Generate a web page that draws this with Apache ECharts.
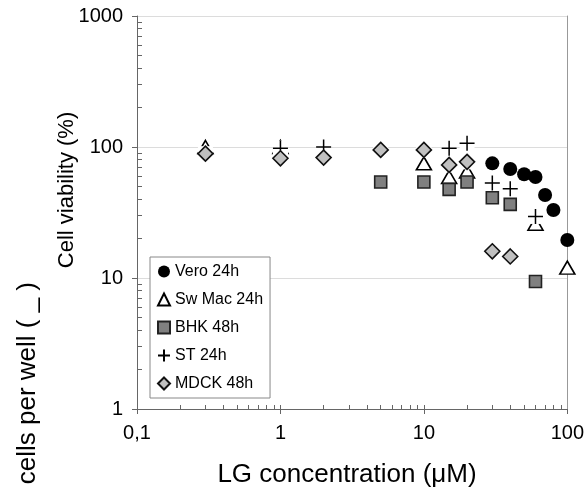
<!DOCTYPE html>
<html>
<head>
<meta charset="utf-8">
<script src="https://cdn.jsdelivr.net/npm/echarts@6/dist/echarts.min.js"></script>
<style>
html,body{margin:0;padding:0;background:#fff;}
#chart{width:587px;height:502px;}
</style>
</head>
<body>
<div id="chart"></div>
<script>
// ---- data ----
const veroX = [30, 40, 50, 60, 70, 80, 100];
const veroY = [75, 68, 62, 59, 43, 33, 19.5];
const swMacX = [0.3, 1, 10, 15, 20, 60, 100];
const swMacY = [100, 100, 75, 59, 65, 26, 12];
const bhkX = [5, 10, 15, 20, 30, 40, 60];
const bhkY = [54, 54, 47.5, 54, 41, 36.5, 9.4];
const stX = [1, 2, 10, 15, 20, 30, 40, 60];
const stY = [98, 100, 95, 98, 107, 53, 48, 29.5];
const mdckX = [0.3, 1, 2, 5, 10, 15, 20, 30, 40];
const mdckY = [89, 82, 83, 95, 95, 73, 77, 16, 14.6];
const seriesNames = ['Vero 24h', 'Sw Mac 24h', 'BHK 48h', 'ST 24h', 'MDCK 48h'];
const xInnerTicks = [0.2,0.3,0.4,0.5,0.6,0.7,0.8,0.9,1,2,3,4,5,6,7,8,9,10,20,30,40,50,60,70,80,90];
const yInnerTicks = [2,3,4,5,6,7,8,9,20,30,40,50,60,70,80,90,200,300,400,500,600,700,800,900];

const pair = (xs, ys) => xs.map((x, i) => [x, ys[i]]);
const FONT = '"Liberation Sans", Arial, sans-serif';
const fmt = v => String(v).replace('.', ',');
const plusPath = 'path://M5,0 L5,10 M0,5 L10,5';

const chart = echarts.init(document.getElementById('chart'), null, {renderer: 'canvas'});
chart.setOption({
  animation: false,
  backgroundColor: '#fff',
  grid: {left: 137, right: 18, top: 16, bottom: 93, containLabel: false},
  xAxis: [
    {type: 'log', logBase: 10, min: 0.1, max: 100, position: 'bottom',
     axisLine: {lineStyle: {color: '#666', width: 1}},
     axisTick: {show: true, inside: false, length: 5, lineStyle: {color: '#666'}},
     axisLabel: {formatter: fmt, fontSize: 20, color: '#000', margin: 14, fontFamily: FONT},
     splitLine: {show: false}},
    {type: 'log', logBase: 10, min: 0.1, max: 100, position: 'bottom',
     axisLine: {show: false},
     axisTick: {show: true, inside: true, length: 4, customValues: xInnerTicks, lineStyle: {color: '#666'}},
     axisLabel: {show: false},
     splitLine: {show: false}}
  ],
  yAxis: [
    {type: 'log', logBase: 10, min: 1, max: 1000, position: 'left',
     axisLine: {show: true, lineStyle: {color: '#666', width: 1}},
     axisTick: {show: true, inside: false, length: 5, lineStyle: {color: '#666'}},
     axisLabel: {formatter: fmt, fontSize: 20, color: '#000', margin: 14, fontFamily: FONT},
     splitLine: {show: true, lineStyle: {color: '#dcdcdc', width: 1}}},
    {type: 'log', logBase: 10, min: 1, max: 1000, position: 'left',
     axisLine: {show: false},
     axisTick: {show: true, inside: true, length: 5, customValues: yInnerTicks, lineStyle: {color: '#666'}},
     axisLabel: {show: false},
     splitLine: {show: false}},
    {type: 'log', logBase: 10, min: 1, max: 1000, position: 'right',
     axisLine: {show: true, lineStyle: {color: '#999', width: 1}},
     axisTick: {show: false}, axisLabel: {show: false}, splitLine: {show: false}}
  ],
  legend: {
    orient: 'vertical', left: 150, top: 257,
    padding: [6, 7, 6, 7], itemGap: 11, itemWidth: 12, itemHeight: 12,
    borderColor: '#888', borderWidth: 1, backgroundColor: '#fff', borderRadius: 0,
    textStyle: {fontSize: 16, lineHeight: 17, color: '#000', fontFamily: FONT},
    data: seriesNames
  },
  graphic: [
    {type: 'text', x: 67, y: 190, rotation: Math.PI / 2,
     style: {text: 'Cell viability (%)', font: '22px ' + FONT, fill: '#000', align: 'center', verticalAlign: 'middle'}},
    {type: 'text', x: 28, y: 282, rotation: Math.PI / 2,
     style: {text: 'cells per well ( _ )', font: '26px ' + FONT, fill: '#000', align: 'right', verticalAlign: 'middle'}},
    {type: 'text', x: 347, y: 475,
     style: {text: 'LG concentration (\u03bcM)', font: '26px ' + FONT, fill: '#000', align: 'center', verticalAlign: 'middle'}}
  ],
  series: [
    {name: seriesNames[0], type: 'scatter', data: pair(veroX, veroY), symbol: 'circle', symbolSize: 14,
     itemStyle: {color: '#000', borderColor: '#000', borderWidth: 0, opacity: 1}, z: 2},
    {name: seriesNames[1], type: 'scatter', data: pair(swMacX, swMacY), symbol: 'triangle', symbolSize: [15, 13],
     itemStyle: {color: '#fff', borderColor: '#000', borderWidth: 1.6, opacity: 1}, z: 3},
    {name: seriesNames[2], type: 'scatter', data: pair(bhkX, bhkY), symbol: 'rect', symbolSize: 12,
     itemStyle: {color: '#808080', borderColor: '#222', borderWidth: 1.6, opacity: 1}, z: 4},
    {name: 'ST backing', type: 'scatter', data: pair(stX, stY), symbol: 'rect', symbolSize: 15, silent: true,
     itemStyle: {color: '#fff', borderWidth: 0, opacity: 1}, z: 5},
    {name: seriesNames[3], type: 'scatter', data: pair(stX, stY), symbol: plusPath, symbolSize: 15, symbolKeepAspect: true,
     itemStyle: {color: 'rgba(0,0,0,0)', borderColor: '#000', borderWidth: 1.5, opacity: 1}, z: 6},
    {name: 'MDCK backing', type: 'scatter', data: pair(mdckX, mdckY), symbol: 'rect', symbolSize: 15, silent: true,
     itemStyle: {color: '#fff', borderWidth: 0, opacity: 1}, z: 7},
    {name: seriesNames[4], type: 'scatter', data: pair(mdckX, mdckY), symbol: 'diamond', symbolSize: 15,
     itemStyle: {color: '#c0c0c0', borderColor: '#111', borderWidth: 1.6, opacity: 1}, z: 8}
  ]
});
</script>
</body>
</html>
